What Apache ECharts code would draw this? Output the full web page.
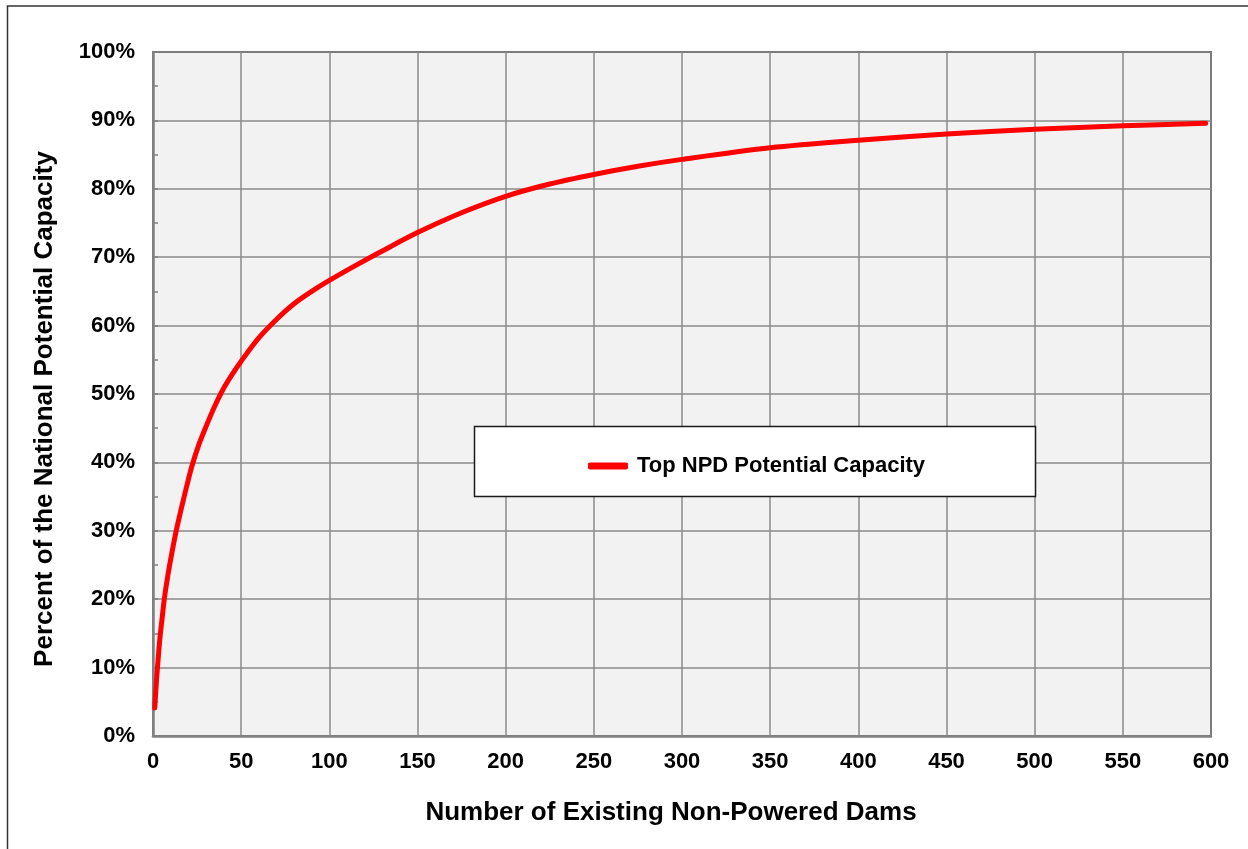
<!DOCTYPE html>
<html>
<head>
<meta charset="utf-8">
<script src="https://cdn.jsdelivr.net/npm/echarts@6/dist/echarts.min.js"></script>
<style>
html,body{margin:0;padding:0;background:#fff;}
#chart{width:1248px;height:849px;}
</style>
</head>
<body>
<div id="chart"></div>
<script>
// Number of existing non-powered dams (x) and cumulative percent of national potential capacity (y)
const damCounts = [1, 2, 3, 4, 5, 6.4, 8, 10, 13, 16, 19, 22, 26, 30, 35, 40, 45, 50, 60, 70, 80, 90, 100, 115, 130, 150, 175, 200, 225, 250, 275, 300, 350, 400, 450, 500, 550, 597];
const capacityPct = [4.1, 8.2, 11.5, 14.5, 16.8, 20, 22.8, 25.8, 29.8, 33.2, 36.4, 39.4, 42.6, 45.2, 48.2, 50.8, 52.9, 54.8, 58.2, 60.9, 63.2, 65.0, 66.6, 68.8, 70.9, 73.6, 76.5, 78.9, 80.7, 82.1, 83.3, 84.3, 86.0, 87.1, 88.0, 88.7, 89.2, 89.6];
const seriesName = 'Top NPD Potential Capacity';
const xTitle = 'Number of Existing Non-Powered Dams';
const yTitle = 'Percent of the National Potential Capacity';

const font = '"Liberation Sans", Arial, sans-serif';
const chart = echarts.init(document.getElementById('chart'));
chart.setOption({
  animation: false,
  backgroundColor: '#fff',
  grid: {
    left: 153, top: 52, right: 37, bottom: 113,
    show: true, backgroundColor: '#F2F2F2', borderColor: '#1a1a1a', borderWidth: 1.5
  },
  xAxis: {
    type: 'value', min: 0, max: 600, interval: 50,
    axisLine: { show: true, onZero: false, lineStyle: { color: '#808080', width: 2.5 } },
    axisTick: { show: false },
    axisLabel: { fontFamily: font, fontWeight: 'bold', fontSize: 22, color: '#000', margin: 15 },
    splitLine: { show: true, lineStyle: { color: '#8a8a8a', width: 1.5 } }
  },
  yAxis: {
    type: 'value', min: 0, max: 100, interval: 10,
    axisLine: { show: true, onZero: false, lineStyle: { color: '#808080', width: 2.5 } },
    axisTick: { show: true, inside: true, length: 5, lineStyle: { color: '#808080', width: 1.5 } },
    minorTick: { show: true, splitNumber: 2, length: 5, lineStyle: { color: '#808080', width: 1.5 } },
    axisLabel: { fontFamily: font, fontWeight: 'bold', fontSize: 22, color: '#000', margin: 18, formatter: '{value}%' },
    splitLine: { show: true, lineStyle: { color: '#8a8a8a', width: 1.5 } }
  },
  legend: {
    show: true, left: 583, top: 450, z: 20,
    itemWidth: 40, itemHeight: 7, itemGap: 10,
    icon: 'roundRect',
    textStyle: { fontFamily: font, fontWeight: 'bold', fontSize: 22, color: '#000', padding: [0, 0, 0, 4] },
    data: [{ name: seriesName, itemStyle: { color: '#FF0000' } }]
  },
  graphic: [
    { type: 'rect', z: 0, silent: true, shape: { x: 7.5, y: 6, width: 1400, height: 1000 },
      style: { fill: 'none', stroke: '#333', lineWidth: 1.5 } },
    { type: 'rect', z: 10, silent: true, shape: { x: 474.5, y: 426.5, width: 561, height: 70 },
      style: { fill: '#fff', stroke: '#1a1a1a', lineWidth: 1.5 } },
    { type: 'text', z: 10, silent: true, x: 671, y: 813,
      style: { text: xTitle, fill: '#000', font: 'bold 26px ' + font, textAlign: 'center', textVerticalAlign: 'middle' } },
    { type: 'text', z: 10, silent: true, x: 45, y: 409, rotation: Math.PI / 2,
      style: { text: yTitle, fill: '#000', font: 'bold 26px ' + font, textAlign: 'center', textVerticalAlign: 'middle' } }
  ],
  series: [{
    name: seriesName, type: 'line', smooth: 0.3, showSymbol: false, symbol: 'none',
    lineStyle: { color: '#FF0000', width: 5, cap: 'round', join: 'round' },
    itemStyle: { color: '#FF0000' },
    data: damCounts.map((x, i) => [x, capacityPct[i]])
  }]
});
</script>
</body>
</html>
